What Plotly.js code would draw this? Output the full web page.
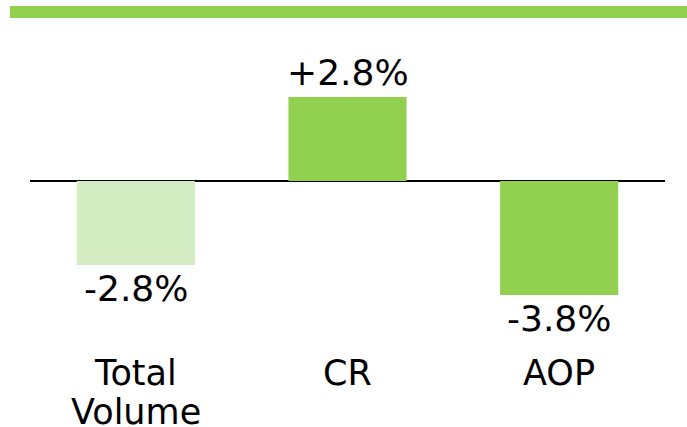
<!DOCTYPE html>
<html>
<head>
<meta charset="utf-8">
<script src="https://cdn.plot.ly/plotly-3.0.1.min.js"></script>
<style>html,body{margin:0;padding:0;background:#fff;}#chart{width:687px;height:427px;}</style>
</head>
<body>
<div id="chart"></div>
<script>
// Data
const categories = ["Total Volume", "CR", "AOP"];
const tickLabels = ["Total<br>Volume", "CR", "AOP"];
const values = [-2.8, 2.8, -3.8];
const barColors = ["#d3ecc2", "#92d050", "#92d050"];

const FONT = "DejaVu Sans, Verdana, sans-serif";
const VSIZE = 36;
const CSIZE = 35;

const trace = {
  type: "bar",
  x: categories,
  y: values,
  marker: { color: barColors, line: { width: 0 } },
  hoverinfo: "skip"
};

const annotations = [];
values.forEach((v, i) => {
  annotations.push({
    xref: "x", yref: "y", x: categories[i], y: v,
    text: (v > 0 ? "+" : "") + v.toFixed(1) + "%",
    showarrow: false,
    yanchor: v > 0 ? "bottom" : "top",
    yshift: v > 0 ? 2 : -1,
    font: { family: FONT, size: VSIZE, color: "#000" }
  });
});
tickLabels.forEach((lbl, i) => {
  lbl.split("<br>").forEach((line, j) => {
    annotations.push({
      xref: "x", yref: "paper", x: categories[i], y: 0,
      text: line, showarrow: false, yanchor: "top",
      yshift: -20 - j * 39,
      font: { family: FONT, size: CSIZE, color: "#000" }
    });
  });
});

const layout = {
  width: 687, height: 427,
  margin: { l: 30, r: 22, t: 31, b: 96, pad: 0 },
  paper_bgcolor: "#fff", plot_bgcolor: "#fff",
  showlegend: false,
  bargap: 0.442,
  xaxis: { range: [-0.5, 2.5], showticklabels: false, showgrid: false, zeroline: false, showline: false, ticks: "" },
  yaxis: { range: [-5, 5], showticklabels: false, showgrid: false, zeroline: true, zerolinecolor: "#000", zerolinewidth: 1.5, showline: false, ticks: "" },
  shapes: [{
    type: "rect", xref: "paper", yref: "paper",
    x0: -0.0315, x1: 1.04, y0: 1.0433, y1: 1.0833,
    fillcolor: "#92d050", line: { width: 0 }, layer: "above"
  }],
  annotations: annotations
};

Plotly.newPlot("chart", [trace], layout, { displayModeBar: false, staticPlot: true });
</script>
</body>
</html>
